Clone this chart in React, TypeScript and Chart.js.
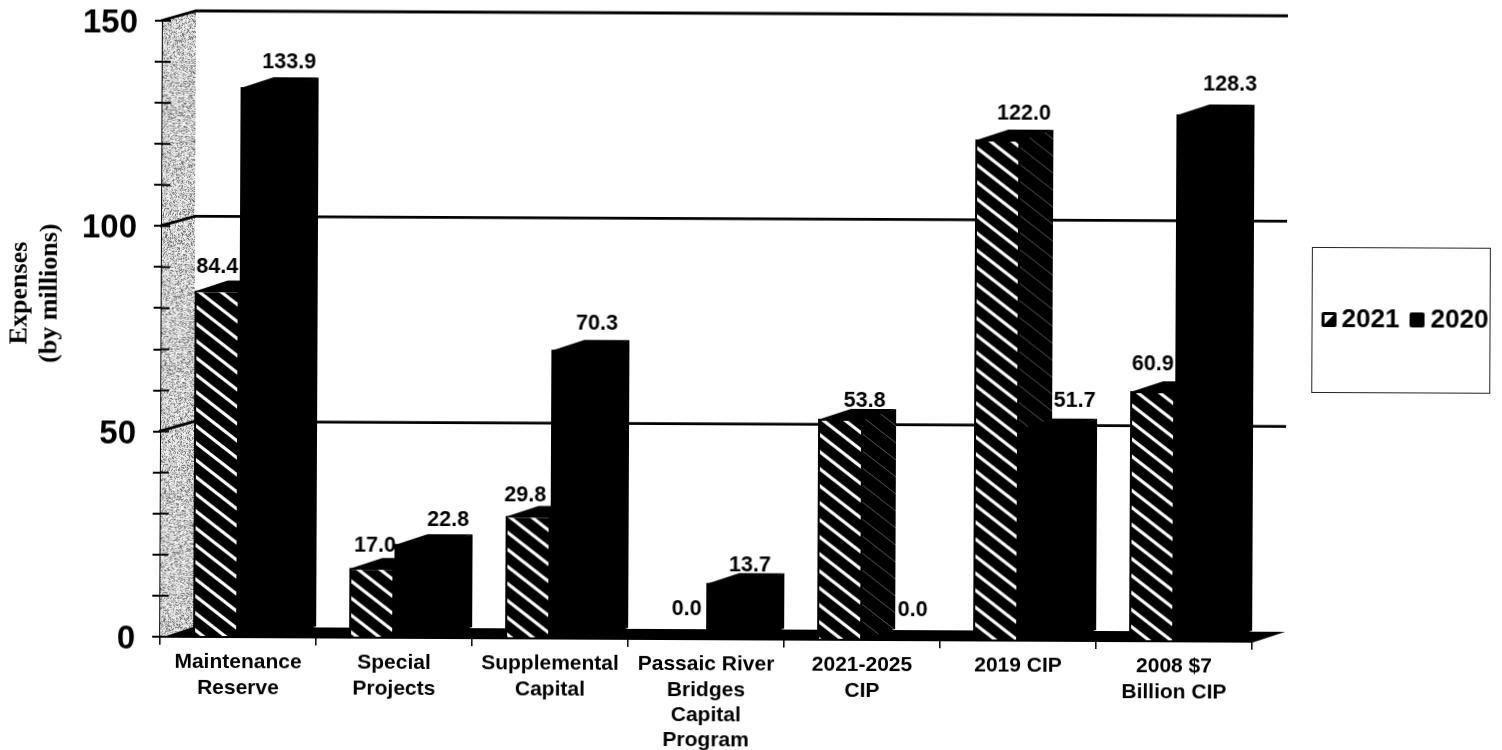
import React, { useEffect, useRef } from "react";
import { Chart, registerables } from "chart.js";

Chart.register(...registerables);

const categories = [
  ["Maintenance", "Reserve"],
  ["Special", "Projects"],
  ["Supplemental", "Capital"],
  ["Passaic River", "Bridges", "Capital", "Program"],
  ["2021-2025", "CIP"],
  ["2019 CIP"],
  ["2008 $7", "Billion CIP"],
];
const seriesNames = ["2021", "2020"];
const values2021 = [84.4, 17.0, 29.8, 0.0, 53.8, 122.0, 60.9];
const values2020 = [133.9, 22.8, 70.3, 13.7, 0.0, 51.7, 128.3];
const yTicksLabelled = [0, 50, 100, 150];

// Where each value label sits, relative to its bar (the source placed them by hand).
const labelDx2021 = [0, 3, -3, 3, 24, 26, 0];
const labelDx2020 = [26, 31, 23, 21, 28, 33, 31];
const labelDy2021 = [13, 12, 11, 20, 8, 16, 17];
const labelDy2020 = [15, 14, 16, 8, 20, 18, 20];

const DEPTH_X = 33;
const DEPTH_Y = 10;
const SANS = "'Liberation Sans', Arial, sans-serif";
const SERIF = "'Liberation Serif', 'Times New Roman', serif";

function hatchPattern(ctx: CanvasRenderingContext2D, stroke: string, width: number) {
  const tile = document.createElement("canvas");
  tile.width = 22;
  tile.height = 17;
  const t = tile.getContext("2d")!;
  t.fillStyle = "#000";
  t.fillRect(0, 0, 22, 17);
  t.strokeStyle = stroke;
  t.lineWidth = width;
  for (const dy of [-17, 0, 17]) {
    t.beginPath();
    t.moveTo(-22, dy - 17);
    t.lineTo(44, dy + 34);
    t.stroke();
  }
  return ctx.createPattern(tile, "repeat")!;
}

// Paper-grain texture for the left wall: a fixed dither tile.
function grainPattern(ctx: CanvasRenderingContext2D) {
  const size = 128;
  const tile = document.createElement("canvas");
  tile.width = size;
  tile.height = size;
  const t = tile.getContext("2d")!;
  const img = t.createImageData(size, size);
  let s = 4711;
  for (let i = 0; i < size * size; i++) {
    s = (Math.imul(s, 1103515245) + 12345) & 0x7fffffff;
    const m = (s >>> 16) % 100;
    const v = m < 14 ? 110 : m < 38 ? 170 : m < 68 ? 215 : 245;
    const p = i * 4;
    img.data[p] = img.data[p + 1] = img.data[p + 2] = v;
    img.data[p + 3] = 255;
  }
  t.putImageData(img, 0, 0);
  return ctx.createPattern(tile, "repeat")!;
}

function poly(ctx: CanvasRenderingContext2D, pts: number[][], fill: any) {
  ctx.fillStyle = fill;
  ctx.beginPath();
  pts.forEach(([x, y], i) => (i ? ctx.lineTo(x, y) : ctx.moveTo(x, y)));
  ctx.closePath();
  ctx.fill();
}

export default function App() {
  const ref = useRef<HTMLCanvasElement>(null);

  useEffect(() => {
    const canvas = ref.current!;
    const ctx = canvas.getContext("2d")!;
    const frontHatch = hatchPattern(ctx, "#fff", 3.2);
    const sideHatch = hatchPattern(ctx, "#555", 1);
    const wall = grainPattern(ctx);

    const depthPlugin = {
      id: "depth",
      beforeDatasetsDraw(chart: any) {
        const c = chart.ctx as CanvasRenderingContext2D;
        const { left, right } = chart.chartArea;
        const y = chart.scales.y;
        const y0 = y.getPixelForValue(0);
        const yTop = y.getPixelForValue(150);
        c.save();
        poly(
          c,
          [
            [left, yTop],
            [left + DEPTH_X, yTop - DEPTH_Y],
            [left + DEPTH_X, y0 - DEPTH_Y],
            [left, y0],
          ],
          wall
        );
        c.strokeStyle = "#000";
        c.lineWidth = 2;
        for (let v = 0; v <= 150; v += 10) {
          const py = y.getPixelForValue(v);
          c.beginPath();
          c.moveTo(left, py);
          c.lineTo(left + 8, py);
          c.stroke();
        }
        c.lineWidth = 2.8;
        for (const v of yTicksLabelled.slice(1)) {
          const py = y.getPixelForValue(v);
          c.beginPath();
          c.moveTo(left - 2, py);
          c.lineTo(left + DEPTH_X, py - DEPTH_Y);
          c.lineTo(right + DEPTH_X, py - DEPTH_Y);
          c.stroke();
        }
        poly(
          c,
          [
            [left, y0 + 1],
            [left + DEPTH_X, y0 - DEPTH_Y],
            [right + DEPTH_X, y0 - DEPTH_Y],
            [right, y0 + 1],
          ],
          "#000"
        );
        [0, 1].forEach((ds) => {
          chart.getDatasetMeta(ds).data.forEach((bar: any) => {
            const { x, y: top, base, width } = bar.getProps(["x", "y", "base", "width"]);
            const l = x - width / 2;
            const r = x + width / 2;
            poly(
              c,
              [
                [r - 2, top],
                [r + DEPTH_X, top - DEPTH_Y],
                [r + DEPTH_X, base - DEPTH_Y],
                [r - 2, base],
              ],
              ds === 0 ? sideHatch : "#000"
            );
            poly(
              c,
              [
                [l, top + 1],
                [l + DEPTH_X, top - DEPTH_Y],
                [r + DEPTH_X, top - DEPTH_Y],
                [r, top + 1],
              ],
              "#000"
            );
          });
        });
        c.restore();
      },
      afterDatasetsDraw(chart: any) {
        const c = chart.ctx as CanvasRenderingContext2D;
        c.save();
        c.fillStyle = "#000";
        c.textAlign = "center";
        c.textBaseline = "middle";
        c.font = `bold 21.5px ${SANS}`;
        [values2021, values2020].forEach((vals, ds) => {
          const dxs = ds === 0 ? labelDx2021 : labelDx2020;
          const dys = ds === 0 ? labelDy2021 : labelDy2020;
          chart.getDatasetMeta(ds).data.forEach((bar: any, i: number) => {
            const { x, y: top } = bar.getProps(["x", "y"]);
            c.fillText(vals[i].toFixed(1), x + dxs[i], top - DEPTH_Y - dys[i]);
          });
        });

        c.save();
        c.translate(36, 293);
        c.rotate(-Math.PI / 2);
        c.font = `bold 26px ${SERIF}`;
        c.fillText("Expenses", 0, -15);
        c.fillText("(by millions)", 0, 15);
        c.restore();

        c.strokeStyle = "#222";
        c.lineWidth = 1;
        c.strokeRect(1313.5, 241.5, 178, 145);
        c.textAlign = "left";
        c.font = `bold 26px ${SANS}`;
        const ly = 312;
        const swatch = (sx: number) => {
          c.fillStyle = "#000";
          c.beginPath();
          c.roundRect(sx, ly - 6, 15, 15, 2);
          c.fill();
        };
        swatch(1323);
        c.fillStyle = "#fff";
        c.beginPath();
        c.moveTo(1326, ly - 3);
        c.lineTo(1335, ly - 3);
        c.lineTo(1326, ly + 6);
        c.closePath();
        c.fill();
        c.fillStyle = "#000";
        c.fillText(seriesNames[0], 1343, ly + 2);
        swatch(1411);
        c.fillStyle = "#000";
        c.fillText(seriesNames[1], 1432, ly + 2);
        c.restore();
      },
    };

    const chart = new Chart(canvas, {
      type: "bar",
      data: {
        labels: categories as any,
        datasets: [
          {
            label: seriesNames[0],
            data: values2021,
            backgroundColor: frontHatch,
            borderColor: "#000",
            borderWidth: 2,
          },
          {
            label: seriesNames[1],
            data: values2020,
            backgroundColor: "#000",
            borderWidth: 0,
          },
        ],
      },
      options: {
        responsive: false,
        animation: false,
        layout: { padding: { left: 0, top: 20, right: 247, bottom: 0 } },
        plugins: { legend: { display: false }, tooltip: { enabled: false } },
        datasets: { bar: { categoryPercentage: 0.577, barPercentage: 1 } },
        scales: {
          x: {
            grid: { drawOnChartArea: false, color: "#000", lineWidth: 1.5, tickLength: 8 },
            border: { display: true, color: "#000", width: 2 },
            afterFit(s: any) {
              s.height = 114;
            },
            ticks: {
              color: "#000",
              autoSkip: false,
              maxRotation: 0,
              padding: 5,
              font: { family: SANS, weight: "bold", size: 21, lineHeight: 1.2 },
            },
          },
          y: {
            min: 0,
            max: 150,
            afterFit(s: any) {
              s.width = 163;
              s.paddingTop = 0;
              s.paddingBottom = 0;
            },
            grid: { drawOnChartArea: false, color: "#000", lineWidth: 2, tickLength: 8 },
            border: { display: true, color: "#000", width: 2.5 },
            ticks: {
              stepSize: 10,
              autoSkip: false,
              color: "#000",
              padding: 17,
              labelOffset: 3,
              font: { family: SANS, weight: "bold", size: 33 },
              callback: (v: any) => (yTicksLabelled.includes(Number(v)) ? String(v) : ""),
            },
          },
        },
      } as any,
      plugins: [depthPlugin],
    });
    return () => chart.destroy();
  }, []);

  return (
    <div style={{ position: "fixed", left: 0, top: 0, width: 1502, height: 750, background: "#fff", overflow: "hidden" }}>
      <canvas
        ref={ref}
        width={1502}
        height={750}
        style={{ display: "block", width: 1502, height: 750, transform: "rotate(0.26deg)", transformOrigin: "0 0" }}
      />
    </div>
  );
}
